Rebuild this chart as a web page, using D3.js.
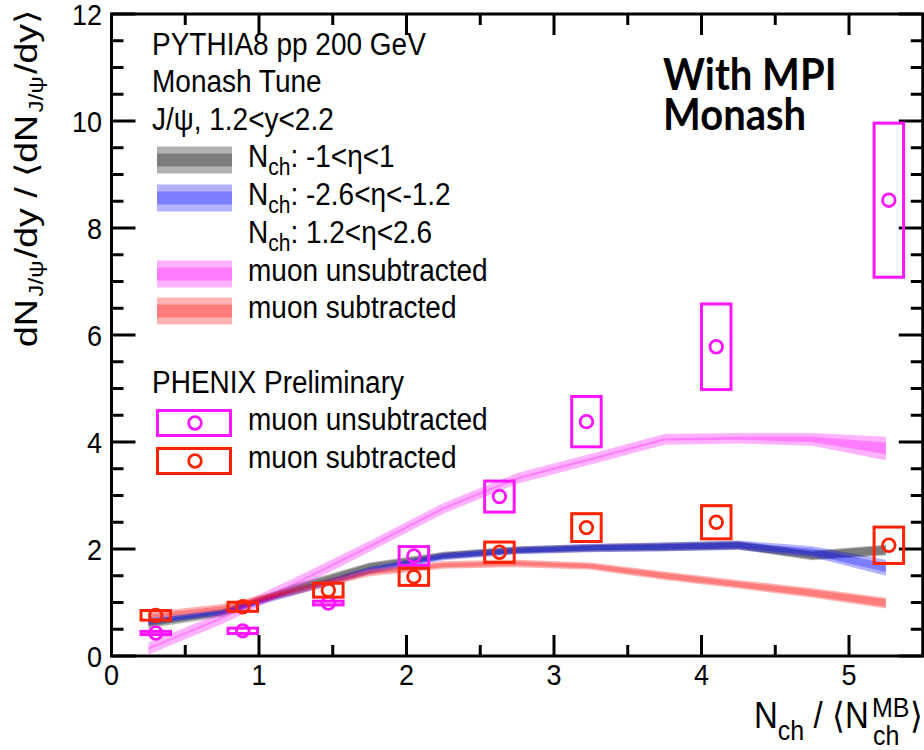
<!DOCTYPE html>
<html>
<head>
<meta charset="utf-8">
<script src="https://cdn.jsdelivr.net/npm/d3@7"></script>
<style>
  html, body { margin: 0; padding: 0; background: #fff; }
  svg { display: block; }
  text { font-family: "Liberation Sans", Arial, Helvetica, sans-serif; fill: #000; }
</style>
</head>
<body>
<svg id="chart" width="924" height="750"></svg>
<script>
// ---- PYTHIA8 Monash model: J/psi relative yield vs Nch/<Nch MB> ----
const modelX = [0.25, 0.75, 1.25, 1.75, 2.25, 2.75, 3.25, 3.75, 4.25, 4.75, 5.25];

// Nch: -1<eta<1
const midVal  = [0.60, 0.80, 1.28, 1.68, 1.88, 1.98, 2.02, 2.04, 2.07, 1.88, 1.98];
const midErr  = [0.08, 0.07, 0.07, 0.07, 0.07, 0.07, 0.07, 0.08, 0.08, 0.09, 0.10];
const midCore = [0.05, 0.04, 0.04, 0.05, 0.05, 0.05, 0.05, 0.06, 0.06, 0.07, 0.08];

// Nch: -2.6<eta<-1.2
const bwdVal  = [0.65, 0.82, 1.20, 1.60, 1.86, 1.97, 2.02, 2.04, 2.07, 1.95, 1.65];
const bwdErr  = [0.07, 0.06, 0.06, 0.07, 0.07, 0.07, 0.08, 0.08, 0.09, 0.10, 0.15];
const bwdCore = [0.04, 0.03, 0.03, 0.04, 0.04, 0.04, 0.05, 0.05, 0.05, 0.06, 0.08];

// muon unsubtracted
const unsubModVal  = [0.14, 0.71, 1.36, 2.05, 2.76, 3.32, 3.68, 4.05, 4.07, 4.05, 3.88];
const unsubModErr  = [0.11, 0.11, 0.11, 0.10, 0.10, 0.10, 0.10, 0.10, 0.10, 0.12, 0.22];
const unsubModCore = [0.02, 0.02, 0.02, 0.02, 0.02, 0.02, 0.02, 0.02, 0.03, 0.05, 0.11];

// muon subtracted
const subModVal  = [0.75, 0.90, 1.22, 1.56, 1.70, 1.73, 1.68, 1.50, 1.34, 1.18, 0.99];
const subModErr  = [0.07, 0.07, 0.07, 0.07, 0.07, 0.07, 0.07, 0.08, 0.08, 0.09, 0.10];
const subModCore = [0.03, 0.03, 0.03, 0.03, 0.04, 0.04, 0.04, 0.05, 0.05, 0.06, 0.07];

// ---- PHENIX Preliminary ----
const dataX     = [0.30, 0.89, 1.47, 2.05, 2.63, 3.22, 4.10, 5.27];
const unsubVal  = [0.43, 0.47, 0.99, 1.87, 2.98, 4.38, 5.78, 8.52];
const unsubSys  = [0.03, 0.05, 0.035, 0.175, 0.29, 0.47, 0.80, 1.44];
const subVal    = [0.76, 0.92, 1.23, 1.48, 1.94, 2.40, 2.50, 2.07];
const subSys    = [0.09, 0.085, 0.13, 0.16, 0.19, 0.26, 0.31, 0.34];

// ---- axes ----
const xMajor = [0, 1, 2, 3, 4, 5];
const xMinor = [0.5, 1.5, 2.5, 3.5, 4.5];
const yMajor = [0, 2, 4, 6, 8, 10, 12];
const yMinor = d3.range(0.5, 12, 0.5).filter(v => v % 2 !== 0);

const svg = d3.select("#chart");
const x = d3.scaleLinear().domain([0, 5.5]).range([111.5, 922.75]);
const y = d3.scaleLinear().domain([0, 12]).range([656, 14]);
const SY = 1.1;      // text drawn slightly tall
const FONT = 28;

const BLACK = "#000", MAG = "#ff14ff", RED = "#ff2200";

function label(px, py, size, anchor) {
  return svg.append("text")
    .attr("transform", `translate(${px},${py}) scale(1,${SY})`)
    .attr("font-size", size)
    .attr("text-anchor", anchor || "start");
}

// ---- model bands (two translucent layers: outer band and core) ----
const plot = svg.append("g");
function band(vals, errs, color) {
  const pts = modelX.map((xv, i) => ({ x: xv, v: vals[i], e: errs[i] }));
  const area = d3.area().x(d => x(d.x)).y0(d => y(d.v - d.e)).y1(d => y(d.v + d.e));
  plot.append("path").datum(pts).attr("d", area).attr("fill", color).attr("fill-opacity", 0.3);
}
const models = [
  { val: midVal, err: midErr, core: midCore, color: "#000000" },
  { val: bwdVal, err: bwdErr, core: bwdCore, color: "#0000ff" },
  { val: unsubModVal, err: unsubModErr, core: unsubModCore, color: "#ff00ff" },
  { val: subModVal, err: subModErr, core: subModCore, color: "#ff0000" }
];
models.forEach(m => { band(m.val, m.err, m.color); band(m.val, m.core, m.color); });

// ---- frame and ticks ----
const ax = svg.append("g").attr("stroke", BLACK).attr("stroke-width", 3);
ax.append("rect").attr("x", x(0)).attr("y", y(12))
  .attr("width", x(5.5) - x(0)).attr("height", y(0) - y(12)).attr("fill", "none");
function xTick(v, len) {
  ax.append("line").attr("x1", x(v)).attr("x2", x(v)).attr("y1", y(0)).attr("y2", y(0) - len);
  ax.append("line").attr("x1", x(v)).attr("x2", x(v)).attr("y1", y(12)).attr("y2", y(12) + len);
}
function yTick(v, len) {
  ax.append("line").attr("y1", y(v)).attr("y2", y(v)).attr("x1", x(0)).attr("x2", x(0) + len);
  ax.append("line").attr("y1", y(v)).attr("y2", y(v)).attr("x1", x(5.5)).attr("x2", x(5.5) - len);
}
xMajor.forEach(v => xTick(v, 21));
xMinor.forEach(v => xTick(v, 11));
yMajor.forEach(v => yTick(v, 24));
yMinor.forEach(v => yTick(v, 12));

xMajor.forEach(v => label(x(v), 685, FONT - 1, "middle").text(v));
yMajor.forEach(v => label(102, y(v) + 11, FONT - 1, "end").text(v));

// ---- PHENIX data: systematic boxes and markers ----
const dg = svg.append("g").attr("fill", "none").attr("stroke-width", 3);
function dataSeries(vals, sys, color) {
  dataX.forEach((xv, i) => {
    dg.append("rect")
      .attr("x", x(xv - 0.1)).attr("width", x(xv + 0.1) - x(xv - 0.1))
      .attr("y", y(vals[i] + sys[i])).attr("height", y(vals[i] - sys[i]) - y(vals[i] + sys[i]))
      .attr("stroke", color);
    dg.append("circle").attr("cx", x(xv)).attr("cy", y(vals[i])).attr("r", 6.3)
      .attr("stroke", color).attr("stroke-width", 2.8);
  });
}
dataSeries(unsubVal, unsubSys, MAG);
dataSeries(subVal, subSys, RED);

// ---- legend: PYTHIA8 ----
label(152, 55, FONT).text("PYTHIA8 pp 200 GeV");
label(152, 92, FONT).text("Monash Tune");
label(152, 130, FONT).text("J/\u03c8, 1.2<y<2.2");

const legRows = [
  { yc: 160, color: "#000000", parts: ["N", "ch", ": -1<\u03b7<1"] },
  { yc: 198, color: "#0000ff", parts: ["N", "ch", ": -2.6<\u03b7<-1.2"] },
  { yc: 236, color: null,      parts: ["N", "ch", ": 1.2<\u03b7<2.6"] },
  { yc: 274, color: "#ff00ff", parts: ["muon unsubtracted"] },
  { yc: 311, color: "#ff0000", parts: ["muon subtracted"] }
];
legRows.forEach(r => {
  if (r.color) {
    svg.append("rect").attr("x", 157).attr("y", r.yc - 13.5).attr("width", 75).attr("height", 27)
      .attr("fill", r.color).attr("fill-opacity", 0.3);
    svg.append("rect").attr("x", 157).attr("y", r.yc - 6.5).attr("width", 75).attr("height", 13)
      .attr("fill", r.color).attr("fill-opacity", 0.3);
  }
  const t = label(248, r.yc + 7, FONT);
  if (r.parts.length === 3) {
    t.append("tspan").text(r.parts[0]);
    t.append("tspan").attr("font-size", 21).attr("dy", 7).text(r.parts[1]);
    t.append("tspan").attr("dy", -7).text(r.parts[2]);
  } else {
    t.text(r.parts[0]);
  }
});

// ---- legend: PHENIX ----
label(152, 393, FONT).text("PHENIX Preliminary");
[{ yc: 423, color: MAG, name: "muon unsubtracted" },
 { yc: 461, color: RED, name: "muon subtracted" }].forEach(r => {
  svg.append("rect").attr("x", 157.5).attr("y", r.yc - 12.5).attr("width", 73).attr("height", 25)
    .attr("fill", "none").attr("stroke", r.color).attr("stroke-width", 3);
  svg.append("circle").attr("cx", 195).attr("cy", r.yc).attr("r", 6.3)
    .attr("fill", "none").attr("stroke", r.color).attr("stroke-width", 2.8);
  label(248, r.yc + 7, FONT).text(r.name);
});

// ---- annotation ----
[["With MPI", 90], ["Monash", 130]].forEach(([s, by]) => {
  svg.append("text")
    .attr("transform", `translate(663,${by}) scale(1,1.1)`)
    .attr("font-size", 40)
    .style("font-family", "Lato, 'Open Sans', sans-serif")
    .attr("font-weight", 700).text(s);
});

// ---- axis titles ----
const yt = svg.append("text")
  .attr("transform", "translate(37,347) rotate(-90) scale(1.21,1)")
  .attr("font-size", 31);
yt.append("tspan").text("dN");
yt.append("tspan").attr("font-size", 20).attr("dy", 6).attr("dx", 2).text("J/\u03c8");
yt.append("tspan").attr("dy", -6).attr("dx", 2).text("/dy / \u27e8dN");
yt.append("tspan").attr("font-size", 20).attr("dy", 6).attr("dx", 2).text("J/\u03c8");
yt.append("tspan").attr("dy", -6).attr("dx", 2).text("/dy\u27e9");

const xt = label(754, 728, 33);
xt.append("tspan").text("N");
xt.append("tspan").attr("font-size", 25).attr("dy", 11).text("ch");
xt.append("tspan").attr("dy", -11).text(" / \u27e8N");
label(872, 717, 25).text("MB");
label(873, 745, 25).text("ch");
label(910, 728, 33).text("\u27e9");
</script>
</body>
</html>
